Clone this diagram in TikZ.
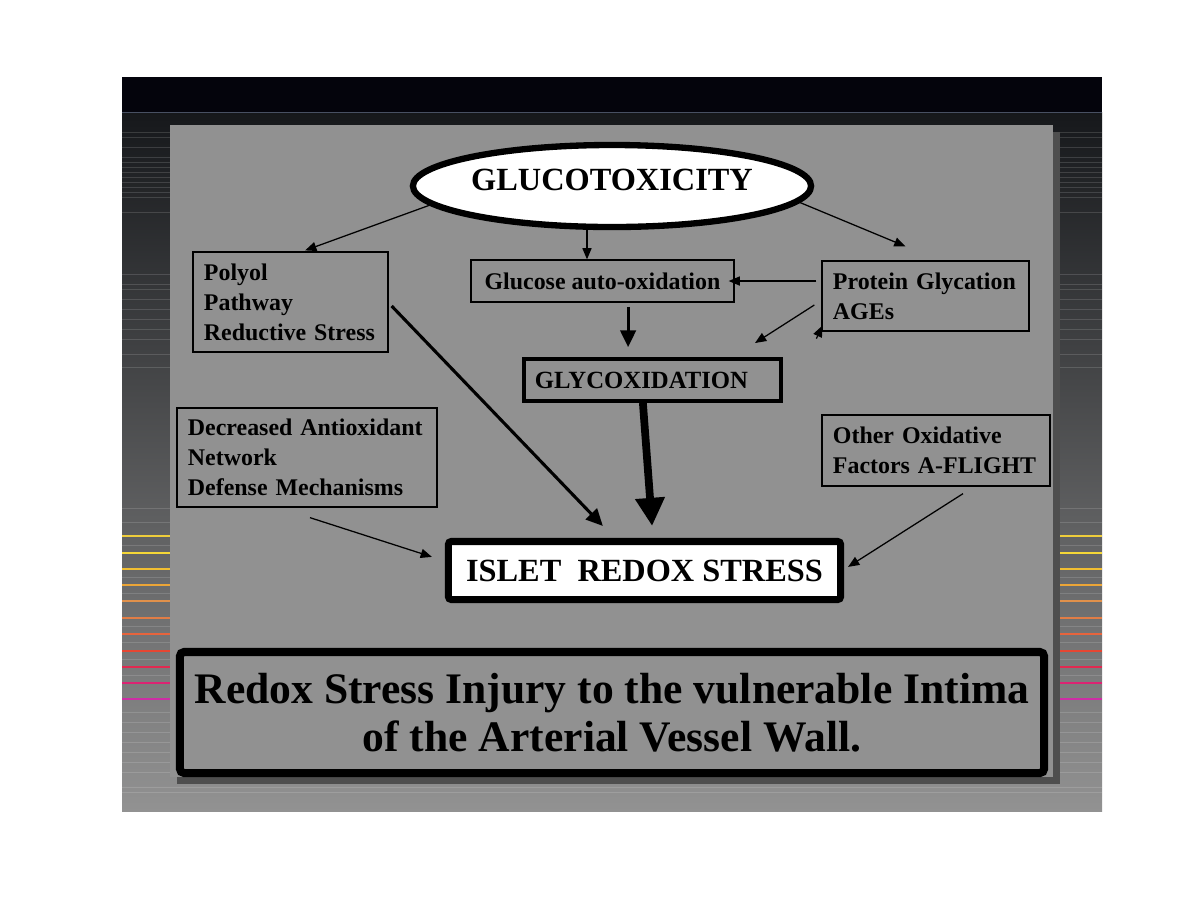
\documentclass[tikz,border=0pt]{standalone}
\usepackage{fontspec}
\setmainfont{Liberation Serif}
\usetikzlibrary{arrows.meta,positioning,shapes.geometric}
\definecolor{panel}{RGB}{145,145,145}
\definecolor{panelshd}{RGB}{78,78,78}
\definecolor{slidetop}{RGB}{4,4,12}
\definecolor{slidehi}{RGB}{22,24,27}
\definecolor{slidemid}{RGB}{82,82,82}
\definecolor{slidebot}{RGB}{146,146,146}
\definecolor{rule}{RGB}{72,80,98}
\newcommand{\szsmall}{\fontsize{17}{21.3}\selectfont\bfseries}
\newcommand{\szglyc}{\fontsize{17.6}{20}\selectfont\bfseries}
\newcommand{\szbig}{\fontsize{23}{27}\selectfont\bfseries}
\newcommand{\szinj}{\fontsize{31}{34}\selectfont\bfseries}
\tikzset{
  bx/.style={rectangle, draw=black, line width=0.9pt, inner xsep=0.275cm,
             inner ysep=0pt, align=left, font=\szsmall},
  hub/.style={ellipse, draw=black, line width=4.5pt, fill=white, inner sep=0pt,
              font=\szbig},
  glyc/.style={bx, line width=2.8pt, font=\szglyc},
  stress/.style={rectangle, rounded corners=2pt, draw=black, line width=5pt,
                 fill=white, inner sep=0pt, align=center, font=\szbig},
  injury/.style={rectangle, rounded corners=3pt, draw=black, line width=5.7pt,
                 inner sep=0pt, align=center, font=\szinj},
  thinar/.style={-{Triangle[length=8pt,width=6.5pt]}, line width=0.9pt},
  midar/.style={-{Triangle[length=12pt,width=11pt]}, line width=2.2pt},
  fatar/.style={-{Triangle[length=20pt,width=20pt]}, line width=5.5pt},
}

\begin{document}
\begin{tikzpicture}[x=0.025cm,y=-0.025cm]
\useasboundingbox (0,0) rectangle (1198,904);
\fill[white] (0,0) rectangle (1198,904);

% ===================== SLIDE BACKGROUND =====================
\fill[slidetop] (122,77) rectangle (1102,112);
\shade[top color=slidehi, middle color=slidemid, bottom color=slidebot]
  (122,112) rectangle (1102,811);
\draw[rule, line width=0.6pt] (122,112) -- (1102,112);
\foreach \y in {132,137,147,157,162,167,172,177,182,187,192,197,212,
                274,284,289,299,309,319,329,339,354,367,
                508,522,545,577,593,626,642,659,675,
                712,722,732,742,752,762,772,787,792}
  \draw[white, opacity=0.14, line width=0.4pt] (122,\y) -- (1102,\y);
\foreach \y/\r/\g/\b in {536/238/205/60, 553/245/215/55, 569/240/190/50,
                         585/235/165/55, 601/225/145/75, 618/225/125/70,
                         634/230/100/60, 651/230/70/50, 667/225/40/80,
                         683/220/35/115, 699/205/45/165}
{
  \definecolor{stripe}{RGB}{\r,\g,\b}
  \draw[stripe, line width=1.3pt] (122,\y) -- (1102,\y);
}

% ===================== PANEL =====================
\fill[panelshd] (177,132) rectangle (1060,784);
\fill[panel] (170,125) rectangle (1053,777);

% ===================== NODES =====================
\node[hub, minimum width=9.375cm, minimum height=2.05cm] (gluc) at (612,186)
  {\raisebox{0.3cm}{GLUCOTOXICITY}};

\node[bx, text width=4.325cm, minimum height=2.5cm] (polyol) at (290.5,302)
  {Polyol\\Pathway\\Reductive Stress};
\node[bx, align=center, inner xsep=0pt, minimum width=6.575cm,
      minimum height=1.05cm] (glucox) at (602.5,281)
  {Glucose auto-oxidation};
\node[bx, text width=4.625cm, minimum height=1.75cm] (protein) at (925.5,296)
  {Protein Glycation\\AGEs};

\node[glyc, text width=5.875cm, minimum height=1.05cm] (glycox) at (652.5,380)
  {GLYCOXIDATION};

\node[bx, text width=5.95cm, minimum height=2.475cm] (decr) at (307,457.5)
  {Decreased Antioxidant\\Network\\Defense Mechanisms};
\node[bx, text width=5.15cm, minimum height=1.775cm] (other) at (936,450.5)
  {Other Oxidative\\Factors A-FLIGHT};

\node[stress, minimum width=9.8cm, minimum height=1.45cm] (islet) at (644.5,570.5)
  {ISLET\hspace{0.25em} REDOX STRESS};

\node[injury, minimum width=21.6cm, minimum height=3.025cm] (inj) at (612,712.5)
  {Redox Stress Injury to the vulnerable Intima\\of the Arterial Vessel Wall.};

% ===================== ARROWS =====================
% glucotoxicity -> three branches
\draw[thinar, shorten >=2pt] (gluc.186) -- ([xshift=0.3cm]polyol.north);
\draw[thinar] ([xshift=-0.625cm]gluc.south) -- ([xshift=-0.625cm]gluc.south |- glucox.north);
\draw[thinar] (gluc.-5) -- ([xshift=-0.5cm,yshift=0.35cm]protein.north);

% protein glycation -> glucose auto-oxidation / glycoxidation
\draw[thinar] ([xshift=-0.125cm]protein.west |- glucox.east) -- ([xshift=-0.15cm]glucox.east);
\draw[thinar] ([xshift=-0.175cm,yshift=-0.225cm]protein.west)
  -- ([xshift=-0.7cm,yshift=0.35cm]glycox.north east);
\draw[thinar] ([xshift=-0.125cm,yshift=-0.175cm]protein.south west)
  -- ([xshift=0.025cm,yshift=0.15cm]protein.south west);

% glucose auto-oxidation -> glycoxidation
\draw[midar, shorten <=3pt, shorten >=7pt] ([xshift=0.64cm]glucox.south)
  -- ([xshift=0.64cm]glucox.south |- glycox.north);

% into islet redox stress
\draw[midar] ([xshift=0.075cm,yshift=-0.1cm]polyol.east)
  -- ([xshift=-1.04cm,yshift=0.3cm]islet.north);
\draw[fatar] ([xshift=-0.24cm]glycox.south)
  -- ([xshift=0.19cm,yshift=0.3cm]islet.north);
\draw[thinar] ([xshift=0.075cm,yshift=-0.25cm]decr.south)
  -- ([xshift=-0.325cm,yshift=0.34cm]islet.west);
\draw[thinar] ([xshift=0.675cm,yshift=-0.175cm]other.south)
  -- ([xshift=0.1cm,yshift=0.09cm]islet.east);

\end{tikzpicture}
\end{document}
